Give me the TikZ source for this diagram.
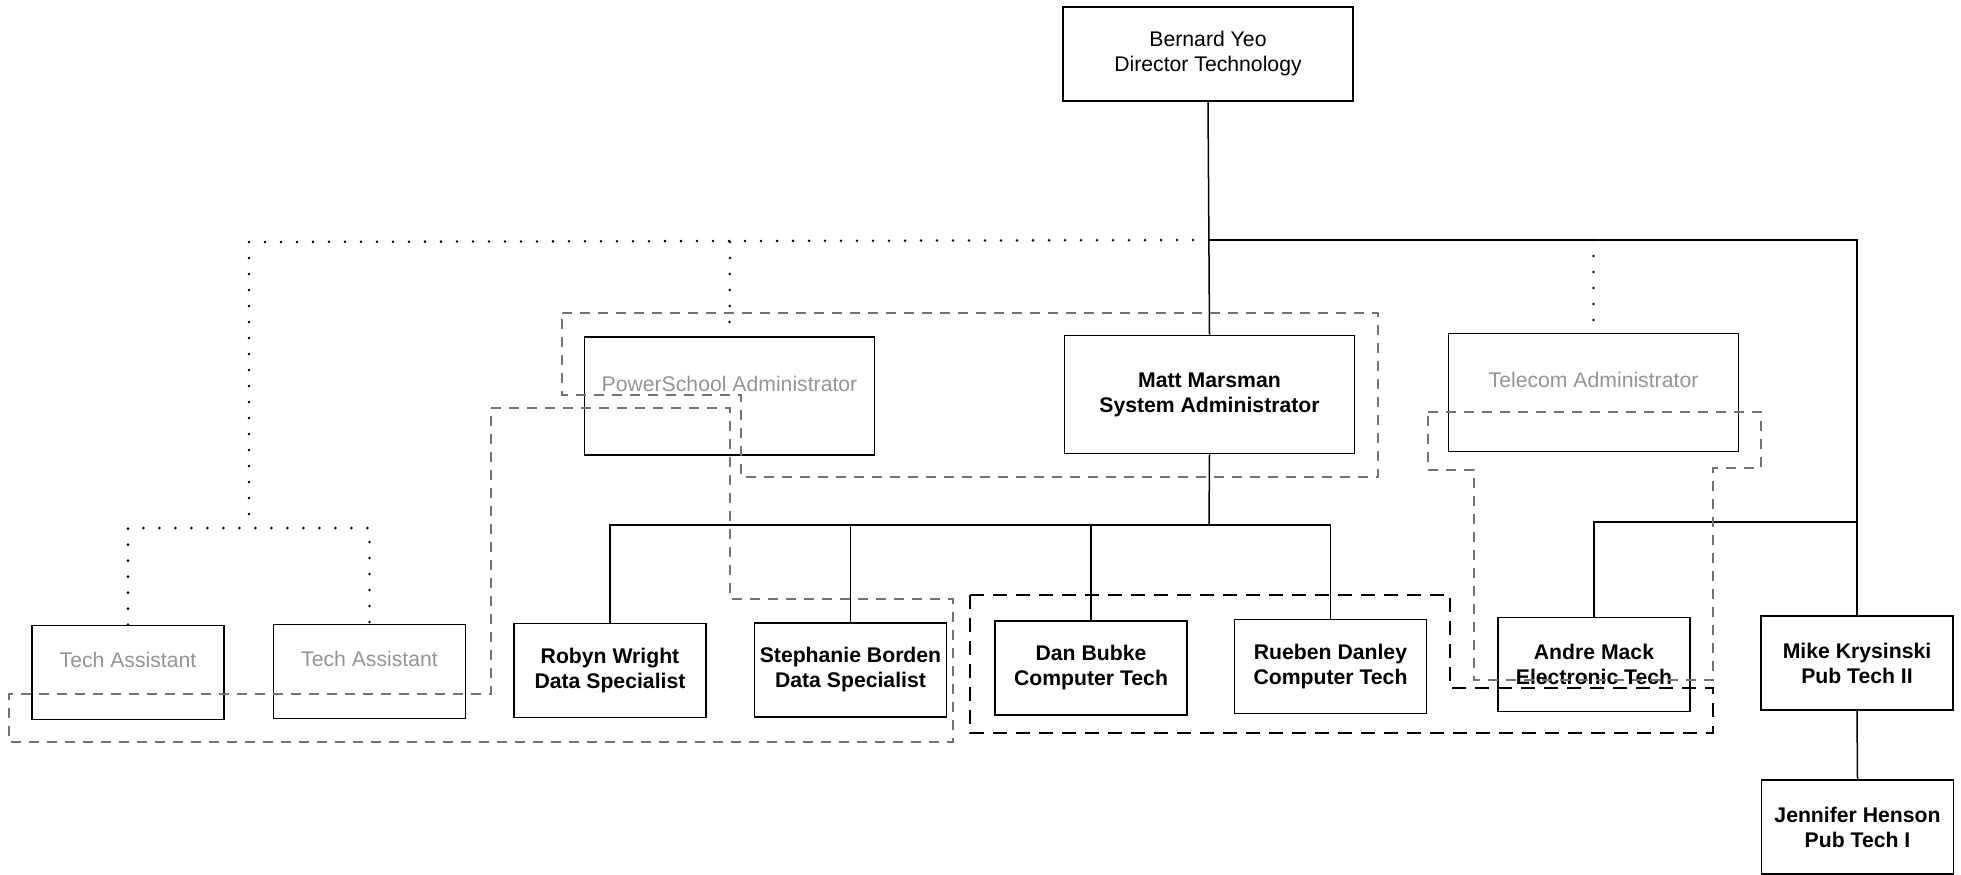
\documentclass[tikz,border=0pt]{standalone}
\usepackage{fontspec}
\setmainfont{Liberation Sans}
\begin{document}
\begin{tikzpicture}[x=0.5pt,y=-0.5pt]
\tikzset{
  box/.style={draw=black, line width=0.9pt, align=center, inner sep=0pt,
    font=\fontsize{10.6}{12.5}\selectfont},
  small/.style={minimum width=96pt, minimum height=47pt},
  big/.style={minimum width=145pt, minimum height=59pt},
  person/.style={box, font=\fontsize{10.6}{12.5}\selectfont\bfseries},
  vacant/.style={box, text=black!42},
  conn/.style={line width=0.75pt},
  heavy/.style={line width=1.2pt},
  dotline/.style={line width=1.4pt, line cap=round, dash pattern=on 0pt off 8pt},
  grpline/.style={draw=black!55, line width=0.55pt, dash pattern=on 5pt off 4pt},
  grpbold/.style={draw=black, line width=1pt, dash pattern=on 7pt off 4.5pt},
}
\useasboundingbox (0,0) rectangle (1961,874);

% director
\node[box, minimum width=145pt, minimum height=47pt] (bernard) at (1208,54)
  {Bernard Yeo\\Director Technology};

% second tier
\node[vacant, big] (psadmin) at (729.5,396) {PowerSchool Administrator\\\mbox{}};
\node[person, big] (matt) at (1209.5,394.5) {Matt Marsman\\System Administrator};
\node[vacant, big] (telecom) at (1593.5,392.5) {Telecom Administrator\\\mbox{}};

% bottom row
\node[vacant, small] (ta1) at (128,672.5) {Tech Assistant\\\mbox{}};
\node[vacant, small] (ta2) at (369.5,671.5) {Tech Assistant\\\mbox{}};
\node[person, small] (robyn) at (610,670.5) {Robyn Wright\\Data Specialist};
\node[person, small] (steph) at (850.5,670) {Stephanie Borden\\Data Specialist};
\node[person, small] (dan) at (1091,668) {Dan Bubke\\Computer Tech};
\node[person, small] (rueben) at (1330.5,666.5) {Rueben Danley\\Computer Tech};
\node[person, small] (andre) at (1594,664.5) {Andre Mack\\Electronic Tech};
\node[person, small] (mike) at (1857,663) {Mike Krysinski\\Pub Tech II};
\node[person, small] (jennifer) at (1857.5,827) {Jennifer Henson\\Pub Tech I};

% junction points
\coordinate (top) at (1209,240);
\coordinate (topL) at (249,242);
\coordinate (taBus) at (249,528);
\coordinate (psTop) at (730,242);
\coordinate (telTop) at (1593.5,240);
\coordinate (mattBus) at (1209,525);
\coordinate (andreBus) at (1857,522);

% solid reporting lines
\draw[conn] (bernard.south) -- (matt.north);
\draw[heavy] (top) -| (mike.north);
\draw[conn] (matt.south) -- (mattBus);
\draw[conn] (robyn.north) |- (mattBus -| rueben.north) -- (rueben.north);
\draw[conn] (steph.north) -- (steph.north |- mattBus);
\draw[conn] (dan.north) -- (dan.north |- mattBus);
\draw[heavy] (andreBus) -| (andre.north);
\draw[conn] (mike.south) -- (jennifer.north);

% dotted reporting lines
\draw[dotline] (top) -- (topL) -- (taBus);
\draw[dotline] (ta1.north) |- (taBus -| ta2.north) -- (ta2.north);
\draw[dotline] (psTop) -- (psadmin.north);
\draw[dotline] (telTop) -- (telecom.north);

% dashed groupings
\draw[grpline] (562,313) -- (1378,313) -- (1378,477) -- (741,477)
  -- (741,395) -- (562,395) -- cycle;
\draw[grpline] (491,408) -- (730,408) -- (730,599) -- (953,599)
  -- (953,742) -- (9,742) -- (9,694) -- (491,694) -- cycle;
\draw[grpline] (1428,412) -- (1761,412) -- (1761,468) -- (1713,468)
  -- (1713,680) -- (1474,680) -- (1474,470) -- (1428,470) -- cycle;
\draw[grpbold] (970,595) -- (1450,595) -- (1450,688) -- (1713,688)
  -- (1713,733) -- (970,733) -- cycle;
\end{tikzpicture}
\end{document}
